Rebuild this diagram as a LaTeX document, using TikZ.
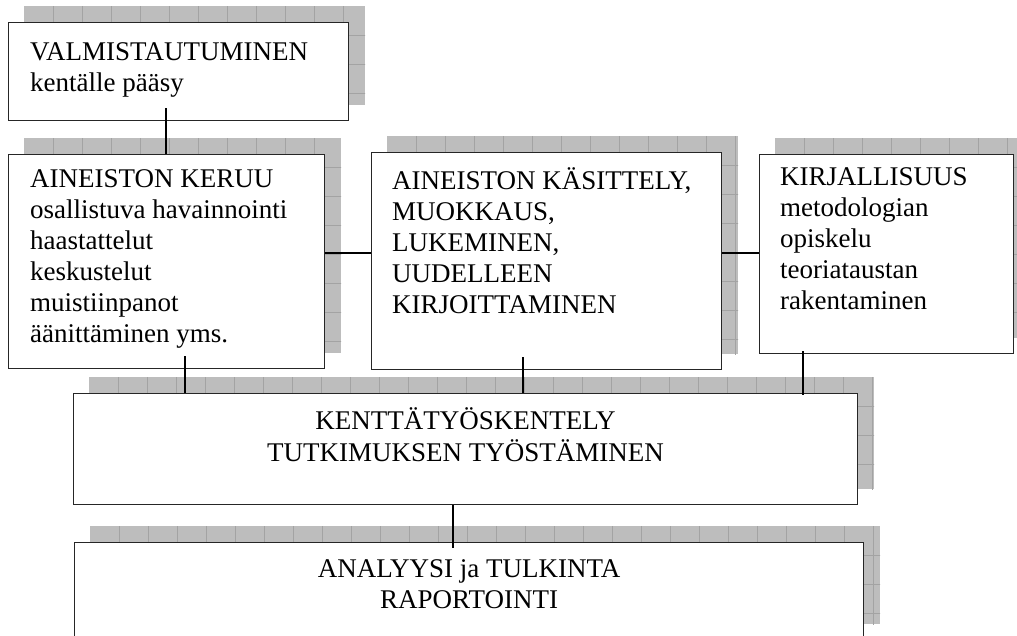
\documentclass[tikz,border=0pt]{standalone}
\usepackage{fontspec}
\setmainfont{Liberation Serif}
\usetikzlibrary{backgrounds}

\tikzset{
  box/.style={draw=black!85, line width=1.2pt, fill=white, anchor=north west, inner sep=0pt},
  boxtext/.style={anchor=north west, inner sep=0pt, align=left, font=\fontsize{27}{31}\selectfont},
  midtext/.style={anchor=north, inner sep=0pt, align=center, font=\fontsize{27}{31}\selectfont},
  link/.style={line width=1.5pt, black},
  shadowfill/.style={fill=black!26},
  tilegrid/.style={draw=black!36, line width=0.6pt},
}

\begin{document}
\begin{tikzpicture}[x=1pt, y=-1pt]
  \useasboundingbox (0,0) rectangle (1017,635);

  % the boxes
  \node[box, minimum width=340pt, minimum height=98pt] (valm) at (8,22) {};
  \node[box, minimum width=316pt, minimum height=214pt] (keruu) at (8,154) {};
  \node[box, minimum width=350pt, minimum height=217pt] (kasittely) at (371,152) {};
  \node[box, minimum width=254pt, minimum height=199pt] (kirj) at (759,154) {};
  \node[box, minimum width=784pt, minimum height=111pt] (kentta) at (73,393) {};
  \node[box, minimum width=789pt, minimum height=97pt] (analyysi) at (74,542) {};

  % texts
  \node[boxtext] (valm-t) at ([shift={(22,17)}]valm.north west)
    {\strut VALMISTAUTUMINEN\\kentälle pääsy};
  \node[boxtext] (keruu-t) at ([shift={(22,12)}]keruu.north west)
    {\strut AINEISTON KERUU\\osallistuva havainnointi\\haastattelut\\keskustelut\\muistiinpanot\\äänittäminen yms.};
  \node[boxtext] (kasittely-t) at ([shift={(21,15)}]kasittely.north west)
    {\strut AINEISTON KÄSITTELY,\\MUOKKAUS,\\LUKEMINEN,\\UUDELLEEN\\KIRJOITTAMINEN};
  \node[boxtext] (kirj-t) at ([shift={(21,10)}]kirj.north west)
    {\strut KIRJALLISUUS\\metodologian\\opiskelu\\teoriataustan\\rakentaminen};
  \node[midtext] (kentta-t) at ([yshift=-14pt]kentta.north)
    {\strut KENTTÄTYÖSKENTELY\\TUTKIMUKSEN TYÖSTÄMINEN};
  \node[midtext] (analyysi-t) at ([yshift=-14pt]analyysi.north)
    {\strut ANALYYSI ja TULKINTA\\RAPORTOINTI};

  % shadows behind the boxes
  \begin{scope}[on background layer]
    \foreach \b in {valm,keruu,kasittely,kirj,kentta,analyysi} {
      \begin{scope}
        \clip ([shift={(16,-16)}]\b.north west) rectangle ([shift={(16,-16)}]\b.south east);
        \fill[shadowfill] ([shift={(16,-16)}]\b.north west) rectangle ([shift={(16,-16)}]\b.south east);
        \foreach \i in {1,...,28}
          \draw[tilegrid] ([shift={(16+29*\i,-16)}]\b.north west) -- ++(0,300);
        \foreach \j in {1,...,8}
          \draw[tilegrid] ([shift={(16,-16+29*\j)}]\b.north west) -- ++(900,0);
      \end{scope}
    }
  \end{scope}

  % connectors
  \draw[link] ([shift={(158,-13)}]valm.south west) coordinate (c1) -- (c1 |- keruu.north);
  \draw[link] ([yshift=-99pt]keruu.north east) coordinate (c2) -- (c2 -| kasittely.west);
  \draw[link] ([yshift=-101pt]kasittely.north east) coordinate (c3) -- (c3 -| kirj.west);
  \draw[link] ([shift={(177,-13)}]keruu.south west) coordinate (c4) -- (c4 |- kentta.north);
  \draw[link] ([shift={(152,-13)}]kasittely.south west) coordinate (c5) -- (c5 |- kentta.north);
  \draw[link] ([shift={(44,-3)}]kirj.south west) coordinate (c6) -- ([yshift=-2pt]c6 |- kentta.north);
  \draw[link] ([xshift=380pt]kentta.south west) coordinate (c7) -- ([yshift=-6pt]c7 |- analyysi.north);
\end{tikzpicture}
\end{document}
